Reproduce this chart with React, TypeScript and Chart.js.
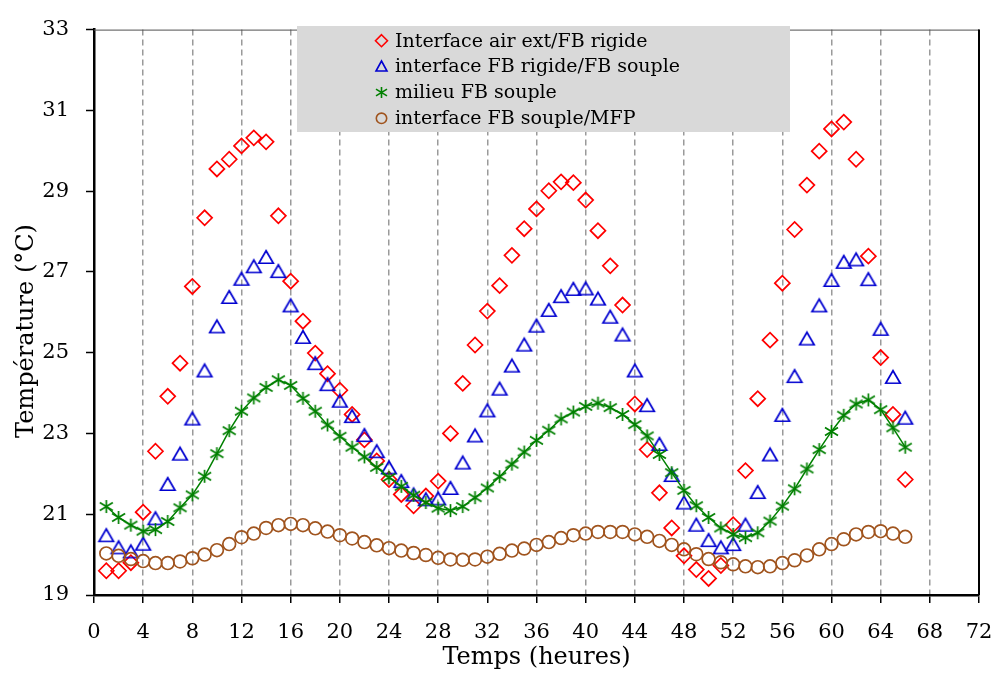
import React, { useEffect, useRef } from 'react';
import { Chart, registerables } from 'chart.js';

Chart.register(...registerables);

const hours = [
  1, 2, 3, 4, 5, 6, 7, 8, 9, 10, 11, 12, 13, 14, 15, 16, 17, 18, 19, 20, 21, 22,
  23, 24, 25, 26, 27, 28, 29, 30, 31, 32, 33, 34, 35, 36, 37, 38, 39, 40, 41, 42, 43,
  44, 45, 46, 47, 48, 49, 50, 51, 52, 53, 54, 55, 56, 57, 58, 59, 60, 61, 62, 63, 64,
  65, 66,
];

const interfaceAirExt = [
  19.6, 19.6, 19.8, 21.05, 22.56, 23.92, 24.74, 26.64, 28.34, 29.55, 29.79, 30.12,
  30.32, 30.22, 28.39, 26.77, 25.78, 24.99, 24.48, 24.07, 23.47, 22.84, 22.32, 21.86,
  21.49, 21.21, 21.45, 21.82, 23.0, 24.24, 25.19, 26.03, 26.66, 27.41, 28.07, 28.56,
  29.01, 29.23, 29.21, 28.78, 28.02, 27.15, 26.18, 23.73, 22.6, 21.53, 20.66, 19.97,
  19.63, 19.41, 19.73, 20.74, 22.08, 23.86, 25.31, 26.72, 28.05, 29.15, 29.99, 30.54,
  30.71, 29.79, 27.39, 24.88, 23.47, 21.86,
];

const interfaceRigideSouple = [
  20.48, 20.18, 20.08, 20.27, 20.9, 21.75, 22.5, 23.37, 24.56, 25.65, 26.38, 26.83,
  27.14, 27.37, 27.02, 26.17, 25.39, 24.74, 24.22, 23.81, 23.43, 22.96, 22.56, 22.16,
  21.82, 21.49, 21.37, 21.39, 21.65, 22.28, 22.95, 23.57, 24.11, 24.68, 25.2, 25.67,
  26.06, 26.4, 26.58, 26.59, 26.34, 25.89, 25.45, 24.56, 23.7, 22.74, 21.97, 21.29,
  20.74, 20.36, 20.18, 20.26, 20.74, 21.55, 22.48, 23.46, 24.42, 25.35, 26.17, 26.8,
  27.25, 27.31, 26.82, 25.59, 24.4, 23.39,
];

const milieuSouple = [
  21.19, 20.92, 20.73, 20.58, 20.62, 20.82, 21.16, 21.48, 21.94, 22.5, 23.07, 23.55,
  23.88, 24.14, 24.33, 24.19, 23.87, 23.55, 23.21, 22.93, 22.66, 22.42, 22.16, 21.91,
  21.69, 21.47, 21.29, 21.15, 21.09, 21.19, 21.41, 21.65, 21.93, 22.24, 22.54, 22.83,
  23.08, 23.36, 23.53, 23.67, 23.75, 23.64, 23.47, 23.22, 22.94, 22.48, 22.03, 21.59,
  21.21, 20.92, 20.66, 20.5, 20.42, 20.54, 20.83, 21.2, 21.63, 22.12, 22.6, 23.05,
  23.45, 23.73, 23.83, 23.59, 23.14, 22.66,
];

const interfaceSoupleMFP = [
  20.03, 19.97, 19.89, 19.84, 19.79, 19.79, 19.83, 19.91, 20.0, 20.11, 20.26, 20.43,
  20.52, 20.66, 20.73, 20.76, 20.73, 20.65, 20.57, 20.48, 20.4, 20.31, 20.23, 20.16,
  20.1, 20.04, 19.99, 19.92, 19.88, 19.87, 19.88, 19.95, 20.02, 20.1, 20.15, 20.24,
  20.31, 20.41, 20.48, 20.52, 20.56, 20.56, 20.56, 20.5, 20.44, 20.34, 20.24, 20.13,
  20.01, 19.89, 19.81, 19.76, 19.71, 19.69, 19.71, 19.79, 19.86, 19.98, 20.13, 20.26,
  20.38, 20.5, 20.56, 20.58, 20.52, 20.44,
];

const xTickValues = [0, 4, 8, 12, 16, 20, 24, 28, 32, 36, 40, 44, 48, 52, 56, 60, 64, 68, 72];
const yTickValues = [19, 21, 23, 25, 27, 29, 31, 33];

const seriesLabels = [
  'Interface air ext/FB rigide',
  'interface FB rigide/FB souple',
  'milieu FB souple',
  'interface FB souple/MFP',
];
const xTitle = 'Temps (heures)';
const yTitle = 'Température (°C)';

const RED = '#FF0000';
const BLUE = '#0000D0';
const GREEN = '#008000';
const BROWN = '#A0541E';
const SERIF = '"DejaVu Serif", serif';

function makeCanvas(w: number, h: number) {
  const c = document.createElement('canvas');
  c.width = w;
  c.height = h;
  return c;
}

function makeTriangle(w: number, h: number, color: string, lw: number) {
  const c = makeCanvas(Math.ceil(w + lw * 2 + 2), Math.ceil(h + lw * 2 + 2));
  const ctx = c.getContext('2d')!;
  const cx = c.width / 2;
  const cy = c.height / 2;
  ctx.strokeStyle = color;
  ctx.lineWidth = lw;
  ctx.beginPath();
  ctx.moveTo(cx, cy - h / 2);
  ctx.lineTo(cx + w / 2, cy + h / 2);
  ctx.lineTo(cx - w / 2, cy + h / 2);
  ctx.closePath();
  ctx.stroke();
  return c;
}

function makeAsterisk(size: number, color: string, lw: number) {
  const c = makeCanvas(Math.ceil(size + lw * 2 + 2), Math.ceil(size + lw * 2 + 2));
  const ctx = c.getContext('2d')!;
  const cx = c.width / 2;
  const cy = c.height / 2;
  const r = size / 2;
  ctx.strokeStyle = color;
  ctx.lineWidth = lw;
  ctx.beginPath();
  ctx.moveTo(cx, cy - r);
  ctx.lineTo(cx, cy + r);
  ctx.moveTo(cx - r, cy - r * 0.62);
  ctx.lineTo(cx + r, cy + r * 0.62);
  ctx.moveTo(cx - r, cy + r * 0.62);
  ctx.lineTo(cx + r, cy - r * 0.62);
  ctx.stroke();
  return c;
}

const framePlugin = {
  id: 'frame',
  afterDatasetsDraw(chart: any) {
    const { ctx, chartArea } = chart;
    ctx.save();
    ctx.strokeStyle = '#505050';
    ctx.lineWidth = 1;
    ctx.beginPath();
    ctx.moveTo(chartArea.left, chartArea.top + 0.5);
    ctx.lineTo(chartArea.right, chartArea.top + 0.5);
    ctx.stroke();
    ctx.strokeStyle = '#000';
    ctx.lineWidth = 2;
    ctx.beginPath();
    ctx.moveTo(chartArea.right, chartArea.top);
    ctx.lineTo(chartArea.right, chartArea.bottom);
    ctx.stroke();
    ctx.restore();
  },
};

const legendPlugin = {
  id: 'boxLegend',
  afterDatasetsDraw(chart: any) {
    const { ctx } = chart;
    ctx.save();
    ctx.fillStyle = '#D9D9D9';
    ctx.fillRect(297, 26, 493, 106);
    const rowY = [40.7, 66.3, 92.3, 118.3];
    const mx = 381.5;
    const tx = 395;
    ctx.font = `19px ${SERIF}`;
    ctx.textBaseline = 'middle';
    ctx.textAlign = 'left';
    chart.data.datasets.forEach((ds: any, i: number) => {
      const y = rowY[i];
      ctx.lineWidth = 1.6;
      if (i === 0) {
        ctx.strokeStyle = RED;
        ctx.beginPath();
        ctx.moveTo(mx, y - 6);
        ctx.lineTo(mx + 6, y);
        ctx.lineTo(mx, y + 6);
        ctx.lineTo(mx - 6, y);
        ctx.closePath();
        ctx.stroke();
      } else if (i === 1) {
        const img = makeTriangle(11, 10, BLUE, 1.6);
        ctx.drawImage(img, Math.round(mx - img.width / 2), Math.round(y - img.height / 2));
      } else if (i === 2) {
        const img = makeAsterisk(11, GREEN, 1.6);
        ctx.drawImage(img, Math.round(mx - img.width / 2), Math.round(y - img.height / 2));
      } else {
        ctx.strokeStyle = BROWN;
        ctx.beginPath();
        ctx.arc(mx, y, 5.2, 0, Math.PI * 2);
        ctx.stroke();
      }
      ctx.fillStyle = '#000';
      ctx.fillText(ds.label, tx, y + 1);
    });
    ctx.restore();
  },
};

const yTitlePlugin = {
  id: 'yTitle',
  afterDraw(chart: any) {
    const { ctx } = chart;
    ctx.save();
    ctx.translate(27, 331);
    ctx.rotate(-Math.PI / 2);
    ctx.font = `24px ${SERIF}`;
    ctx.fillStyle = '#000';
    ctx.textAlign = 'center';
    ctx.textBaseline = 'middle';
    ctx.fillText(yTitle, 0, 0);
    ctx.restore();
  },
};

export default function App() {
  const canvasRef = useRef<HTMLCanvasElement | null>(null);

  useEffect(() => {
    const canvas = canvasRef.current;
    if (!canvas) return;
    const triImg = makeTriangle(14.5, 12.5, BLUE, 1.7);
    const astImg = makeAsterisk(13, GREEN, 1.7);
    const toPts = (vals: number[]) => hours.map((h, i) => ({ x: h, y: vals[i] }));

    const chart = new Chart(canvas, {
      type: 'scatter',
      data: {
        datasets: [
          {
            label: seriesLabels[0],
            data: toPts(interfaceAirExt),
            showLine: false,
            pointStyle: 'rectRot',
            pointRadius: 7.5,
            pointBorderWidth: 1.7,
            pointBorderColor: RED,
            pointBackgroundColor: 'rgba(0,0,0,0)',
            order: 4,
          },
          {
            label: seriesLabels[1],
            data: toPts(interfaceRigideSouple),
            showLine: false,
            pointStyle: triImg as any,
            pointRadius: 7,
            order: 3,
          },
          {
            label: seriesLabels[2],
            data: toPts(milieuSouple),
            showLine: true,
            borderColor: GREEN,
            borderWidth: 1.5,
            pointStyle: astImg as any,
            pointRadius: 7,
            order: 2,
          },
          {
            label: seriesLabels[3],
            data: toPts(interfaceSoupleMFP),
            showLine: false,
            pointStyle: 'circle',
            pointRadius: 6.4,
            pointBorderWidth: 1.7,
            pointBorderColor: BROWN,
            pointBackgroundColor: 'rgba(0,0,0,0)',
            order: 1,
          },
        ],
      },
      options: {
        animation: false,
        responsive: false,
        devicePixelRatio: 1,
        layout: { padding: { top: 16, right: 15, left: 0, bottom: 0 } },
        plugins: {
          legend: { display: false },
          tooltip: { enabled: false },
        },
        scales: {
          x: {
            type: 'linear',
            min: 0,
            max: 72,
            afterBuildTicks: (scale: any) => {
              scale.ticks = xTickValues.map((v) => ({ value: v }));
            },
            afterFit: (scale: any) => {
              scale.height = 80;
              scale.paddingLeft = 0;
              scale.paddingRight = 0;
            },
            ticks: {
              font: { family: SERIF, size: 21 },
              color: '#000',
              padding: 17,
              maxRotation: 0,
              autoSkip: false,
            },
            grid: {
              color: '#9a9a9a',
              lineWidth: 1.5,
              tickColor: '#000',
              tickWidth: 1.5,
              tickLength: 8,
            },
            border: { display: true, color: '#000', width: 2.5, dash: [6, 4] },
            title: {
              display: true,
              text: xTitle,
              font: { family: SERIF, size: 24 },
              color: '#000',
              padding: { top: 0, bottom: 3 },
            },
          },
          y: {
            type: 'linear',
            min: 19,
            max: 33,
            afterBuildTicks: (scale: any) => {
              scale.ticks = yTickValues.map((v) => ({ value: v }));
            },
            afterFit: (scale: any) => {
              scale.width = 94;
            },
            ticks: {
              font: { family: SERIF, size: 21 },
              color: '#000',
              padding: 17,
              autoSkip: false,
            },
            grid: {
              drawOnChartArea: false,
              tickColor: '#000',
              tickWidth: 1.5,
              tickLength: 8,
            },
            border: { display: true, color: '#000', width: 2.5 },
          },
        },
      },
      plugins: [framePlugin, legendPlugin, yTitlePlugin],
    });
    return () => chart.destroy();
  }, []);

  return (
    <div style={{ position: 'absolute', left: 0, top: 0, width: 994, height: 675, background: '#fff' }}>
      <canvas ref={canvasRef} width={994} height={675} style={{ display: 'block' }} />
    </div>
  );
}
